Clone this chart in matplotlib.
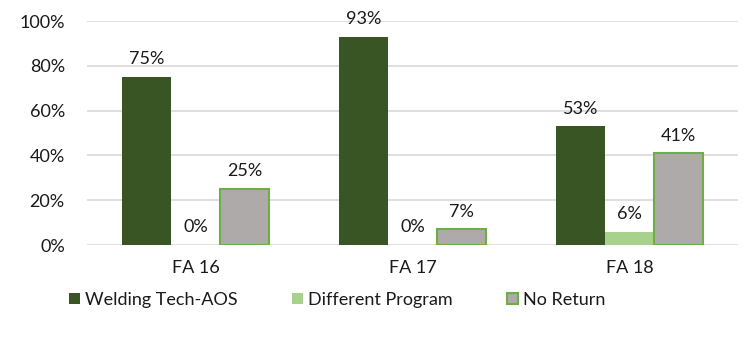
import matplotlib.pyplot as plt
import numpy as np

plt.rcParams['font.family'] = ['Lato', 'DejaVu Sans']

categories = ['FA 16', 'FA 17', 'FA 18']
series_names = ['Welding Tech-AOS', 'Different Program', 'No Return']
welding = [75, 93, 53]
different = [0, 0, 6]
no_return = [25, 7, 41]

fill_colors = ['#3A5524', '#A9D18E', '#AEAAAA']
edge_colors = ['#3A5524', '#A9D18E', '#70AD47']

fs = 13

fig = plt.figure(figsize=(7.5, 3.39), dpi=100)
ax = fig.add_axes([0.116, 0.277, 0.868, 0.661])

x = np.arange(len(categories))
width = 0.226
offsets = [-width, 0, width]

for vals, name, fc, ec, off in zip([welding, different, no_return], series_names,
                                   fill_colors, edge_colors, offsets):
    bars = ax.bar(x + off, [v / 100 for v in vals], width, color=fc,
                  edgecolor=ec, linewidth=1.5 if ec != fc else 0, label=name, zorder=3)
    for b, v in zip(bars, vals):
        ax.annotate(f'{v}%', (b.get_x() + b.get_width() / 2, b.get_height()),
                    xytext=(0, 7), textcoords='offset points', ha='center', va='bottom',
                    fontsize=fs, color='#1a1a1a')

ax.set_xlim(-0.5, 2.5)
ax.set_ylim(0, 1)
ax.set_yticks(np.arange(0, 1.01, 0.2))
ax.set_yticklabels([f'{int(round(t * 100))}%' for t in np.arange(0, 1.01, 0.2)])
ax.set_xticks(x)
ax.set_xticklabels(categories)
ax.tick_params(axis='both', length=0, labelsize=fs, labelcolor='#1a1a1a')
ax.tick_params(axis='x', pad=11)
ax.tick_params(axis='y', pad=16)
ax.grid(axis='y', color='#D9D9D9', linewidth=1.2, zorder=0)
for s in ['top', 'right', 'left', 'bottom']:
    ax.spines[s].set_visible(False)

fig.legend(loc='lower center', bbox_to_anchor=(0.45, 0.07), ncol=3, frameon=False,
           fontsize=fs, handlelength=0.6, handleheight=0.6, handletextpad=0.3,
           columnspacing=3.0, labelcolor='#1a1a1a', borderaxespad=0)

fig.savefig('out.png', dpi=100)
